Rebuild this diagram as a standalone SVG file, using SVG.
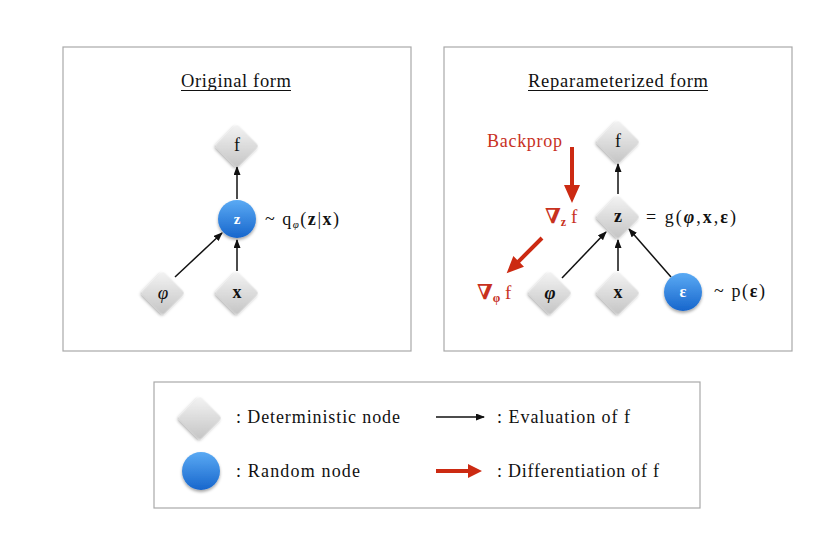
<svg xmlns="http://www.w3.org/2000/svg" xmlns:xlink="http://www.w3.org/1999/xlink" width="832" height="536" viewBox="0 0 832 536">
<style>
text{font-family:"Liberation Serif","DejaVu Serif",serif;fill:#111}
.panel{fill:#fff;stroke:#a9a9a9;stroke-width:1.2}
.title{font-size:18.5px}
.lbl{font-size:18px}
.leg{font-size:18px}
.b{font-weight:bold}
.it{font-style:italic}
.wt{fill:#fff;font-weight:bold}
.red{fill:#c8311e}
.edge{stroke:#111;stroke-width:1.5;fill:none;marker-end:url(#ah)}
.rarrow{fill:#cc2a12}
</style>
<defs>
<linearGradient id="dg" x1="0" y1="0" x2="1" y2="1">
<stop offset="0" stop-color="#f4f4f4"/>
<stop offset="1" stop-color="#c4c4c4"/>
</linearGradient>
<linearGradient id="cg" x1="0" y1="0" x2="0" y2="1">
<stop offset="0" stop-color="#5aaaf4"/>
<stop offset="1" stop-color="#1766cc"/>
</linearGradient>
<filter id="sh" x="-40%" y="-40%" width="180%" height="190%">
<feDropShadow dx="0" dy="2" stdDeviation="1.6" flood-color="#000" flood-opacity="0.35"/>
</filter>
<g id="dia"><rect x="-15.5" y="-15.5" width="31" height="31" rx="3" fill="url(#dg)" transform="rotate(45)" filter="url(#sh)"/></g>
<g id="cir"><circle r="19" fill="url(#cg)" filter="url(#sh)"/></g>
<marker id="ah" markerWidth="9" markerHeight="7" refX="8" refY="3.5" orient="auto" markerUnits="userSpaceOnUse">
<path d="M0,0 L9,3.5 L0,7 z" fill="#111"/>
</marker>
</defs>
<rect width="832" height="536" fill="#fff"/>
<rect class="panel" x="63" y="47" width="348" height="304"/>
<rect class="panel" x="444" y="47" width="348" height="304"/>
<rect class="panel" x="154" y="382" width="546" height="126"/>

<text class="title" x="181" y="87" textLength="110" lengthAdjust="spacing">Original form</text>
<line x1="181" y1="90.5" x2="291" y2="90.5" stroke="#111" stroke-width="1"/>
<text class="title" x="528" y="87" textLength="180" lengthAdjust="spacing">Reparameterized form</text>
<line x1="528" y1="90.5" x2="708" y2="90.5" stroke="#111" stroke-width="1"/>

<g id="connectors">
<line class="edge" x1="237" y1="199" x2="237" y2="167"/>
<line class="edge" x1="175" y1="277" x2="222" y2="233"/>
<line class="edge" x1="237" y1="271" x2="237" y2="240"/>
<line class="edge" x1="618" y1="194" x2="618" y2="164"/>
<line class="edge" x1="562" y1="278" x2="606" y2="232"/>
<line class="edge" x1="618" y1="271" x2="618" y2="240"/>
<line class="edge" x1="671" y1="277" x2="629" y2="229"/>
<polygon class="rarrow" points="570,147 574,147 574,185 580,185 572,203 564,185 570,185"/>
<polygon class="rarrow" transform="translate(542,238) rotate(135)" points="0,-2 33,-2 33,-7.5 50,0 33,7.5 33,2 0,2"/>
<line class="edge" x1="436" y1="417" x2="484" y2="417"/>
<polygon class="rarrow" points="436,469 468,469 468,464 482,471 468,478 468,473 436,473"/>
</g>

<g id="o-f"><use href="#dia" x="237" y="146"/><text class="lbl" x="237" y="151" text-anchor="middle">f</text></g>
<g id="o-z"><use href="#cir" x="237" y="219"/><text class="wt" x="237" y="224" text-anchor="middle" font-size="15">z</text></g>
<g id="o-phi"><use href="#dia" x="163" y="293"/><text class="it" x="163" y="299" text-anchor="middle" font-size="19">φ</text></g>
<g id="o-x"><use href="#dia" x="237" y="293"/><text class="b" x="237" y="298" text-anchor="middle" font-size="18">x</text></g>
<text class="lbl" x="265" y="225" textLength="74" lengthAdjust="spacing">~ q<tspan class="it" font-size="11" dy="3">φ</tspan><tspan dy="-3">(</tspan><tspan class="b">z</tspan>|<tspan class="b">x</tspan>)</text>

<g id="r-f"><use href="#dia" x="618" y="142"/><text class="lbl" x="618" y="147" text-anchor="middle">f</text></g>
<g id="r-z"><use href="#dia" x="618" y="217"/><text class="b" x="618" y="222" text-anchor="middle" font-size="18">z</text></g>
<g id="r-phi"><use href="#dia" x="550" y="293"/><text class="b it" x="550" y="299" text-anchor="middle" font-size="19">φ</text></g>
<g id="r-x"><use href="#dia" x="618" y="293"/><text class="b" x="618" y="298" text-anchor="middle" font-size="18">x</text></g>
<g id="r-eps"><use href="#cir" x="683" y="292"/><text class="wt" x="683" y="297" text-anchor="middle" font-size="16">ε</text></g>
<text class="lbl" x="646" y="223" font-size="19" textLength="90" lengthAdjust="spacing">= g(<tspan class="b it">φ</tspan>,<tspan class="b">x</tspan>,<tspan class="b">ε</tspan>)</text>
<text class="lbl" x="714" y="297" textLength="51" lengthAdjust="spacing">~ p(<tspan class="b">ε</tspan>)</text>

<text class="lbl red" x="487" y="147" textLength="75" lengthAdjust="spacing">Backprop</text>
<text class="red" x="545" y="223" font-size="20"><tspan class="b" font-family="DejaVu Serif" font-size="21">∇</tspan><tspan class="b" font-size="12" dy="3">z</tspan><tspan dy="-3" font-size="19"> f</tspan></text>
<text class="red" x="477" y="299" font-size="20"><tspan class="b" font-family="DejaVu Serif" font-size="21">∇</tspan><tspan class="b" font-size="12" dy="3">φ</tspan><tspan dy="-3" font-size="19"> f</tspan></text>

<g id="leg-det"><use href="#dia" x="200" y="418"/></g>
<g id="leg-rand"><use href="#cir" x="201" y="471"/></g>
<text class="leg" x="236" y="423" textLength="164" lengthAdjust="spacing">: Deterministic node</text>
<text class="leg" x="236" y="477" textLength="124" lengthAdjust="spacing">: Random node</text>
<text class="leg" x="497" y="423" textLength="133" lengthAdjust="spacing">: Evaluation of f</text>
<text class="leg" x="497" y="477" textLength="162" lengthAdjust="spacing">: Differentiation of f</text>
</svg>
